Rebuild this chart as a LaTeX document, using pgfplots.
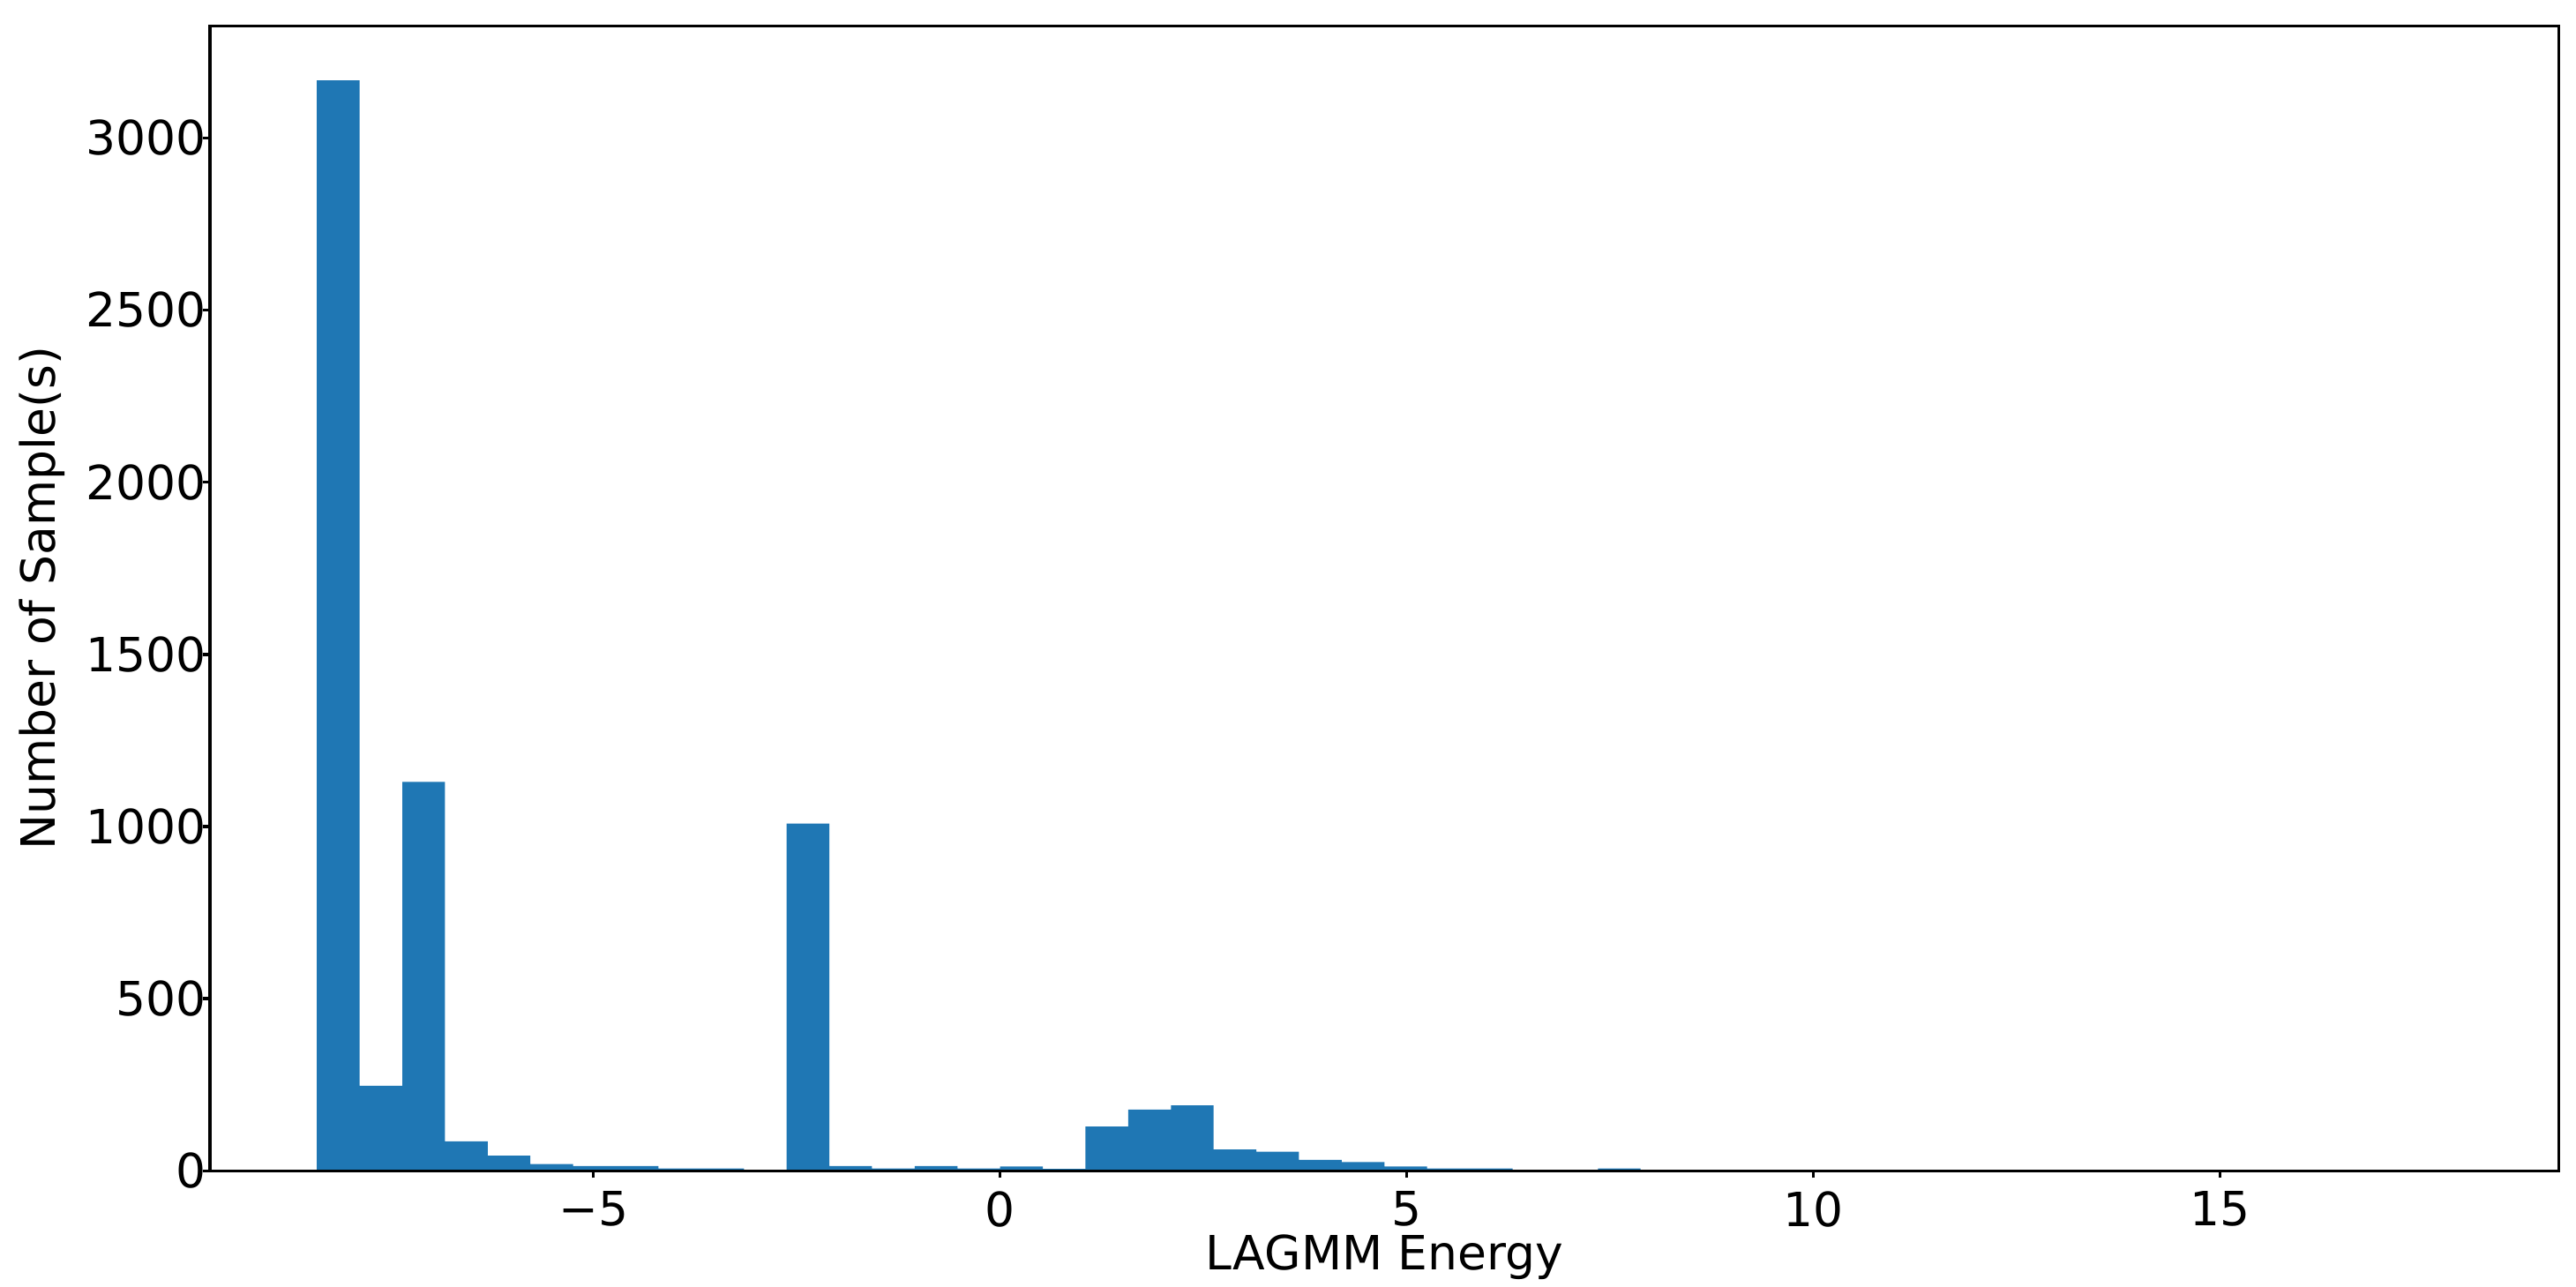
\documentclass[border=0pt]{standalone}
\usepackage{fontspec}
\setmainfont{DejaVu Sans}
\usepackage{pgfplots}
\pgfplotsset{compat=1.18}
\definecolor{mplblue}{HTML}{1F77B4}

% histogram: left bin edge, count (last row closes the final bin)
\pgfplotstableread{
x y
-8.400 3167
-7.875 247
-7.350 1130
-6.825 86
-6.300 44
-5.775 20
-5.250 14
-4.725 14
-4.200 7
-3.675 7
-3.150 0
-2.625 1009
-2.100 14
-1.575 7
-1.050 14
-0.525 7
0.000 13
0.525 6
1.050 129
1.575 178
2.100 190
2.625 62
3.150 56
3.675 32
4.200 26
4.725 13
5.250 7
5.775 7
6.300 2
6.825 1
7.350 7
7.875 1
8.400 0
8.925 0
9.450 0
9.975 0
10.500 0
11.025 0
11.550 0
12.075 0
12.600 0
13.125 0
13.650 0
14.175 0
14.700 0
15.225 0
15.750 0
16.275 0
16.800 0
17.325 1
17.850 0
}\energyhist

\begin{document}
\begin{tikzpicture}
\begin{axis}[
  scale only axis,
  width=21.68cm, height=10.57cm,
  xmin=-9.7125, xmax=19.1625,
  ymin=0, ymax=3325,
  xtick={-5,0,5,10,15},
  xticklabels={−5,0,5,10,15},
  ytick={0,500,...,3000},
  scaled y ticks=false,
  yticklabel style={/pgf/number format/1000 sep={}, xshift=0.15cm},
  /pgf/number format/assume math mode=true,
  tick align=outside,
  major tick length=0.065cm,
  xtick pos=bottom, ytick pos=left,
  tick style={black, line width=0.8pt},
  axis line style={black, line width=0.8pt},
  axis on top,
  ticklabel style={font=\fontsize{12.4}{14}\selectfont},
  label style={font=\fontsize{12.4}{14}\selectfont},
  xlabel={LAGMM Energy},
  ylabel={Number of Sample(s)},
  xlabel shift=-0.17cm,
  ylabel shift=-0.05cm,
]
\addplot[ybar interval, fill=mplblue, draw=none] table {\energyhist};
\end{axis}
\pgfresetboundingbox
\path ([shift={(-1.94cm,-1.07cm)}]current axis.south west) rectangle ([shift={(0.16cm,0.24cm)}]current axis.north east);
\end{tikzpicture}
\end{document}
